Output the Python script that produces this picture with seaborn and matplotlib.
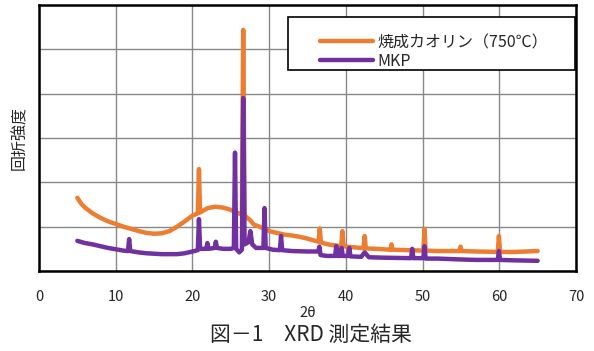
#!/usr/bin/env python3
# XRD patterns of calcined kaolin and MKP, redrawn with seaborn.
import matplotlib
matplotlib.use("Agg")
import matplotlib.pyplot as plt
from matplotlib.patches import Rectangle
import seaborn as sns

# 2theta / relative intensity
kaolin_x = [5.0, 5.5, 6.0, 7.0, 8.0, 9.0, 10.0, 11.0, 12.0, 13.0, 14.0, 15.0,
            16.0, 17.0, 18.0, 19.0, 20.0, 20.7, 20.85, 21.0, 22.0, 23.0, 24.0,
            25.0, 26.0, 26.45, 26.62, 26.8, 27.5, 28.0, 29.0, 30.0, 31.0, 32.0,
            33.0, 34.0, 35.0, 36.0, 36.45, 36.6, 36.75, 37.0, 38.0, 39.4,
            39.55, 39.7, 40.0, 42.0, 42.3, 42.45, 42.6, 44.0, 45.8, 45.95,
            46.1, 48.0, 50.1, 50.25, 50.4, 52.0, 54.8, 54.95, 55.1, 57.0, 59.8,
            59.95, 60.1, 62.0, 65.0]
kaolin_y = [1.65, 1.52, 1.43, 1.30, 1.20, 1.12, 1.06, 1.00, 0.95, 0.90, 0.86,
            0.84, 0.85, 0.90, 1.00, 1.12, 1.25, 1.30, 2.30, 1.32, 1.42, 1.45,
            1.43, 1.38, 1.30, 1.28, 5.44, 1.25, 1.15, 1.05, 0.98, 0.90, 0.86,
            0.82, 0.80, 0.77, 0.73, 0.68, 0.66, 0.96, 0.65, 0.63, 0.59, 0.56,
            0.90, 0.56, 0.55, 0.52, 0.51, 0.79, 0.51, 0.50, 0.48, 0.60, 0.48,
            0.47, 0.46, 0.95, 0.46, 0.45, 0.45, 0.55, 0.45, 0.44, 0.43, 0.79,
            0.43, 0.43, 0.45]

mkp_x = [5.0, 6.0, 7.0, 8.0, 9.0, 10.0, 11.0, 11.6, 11.75, 11.9, 13.0, 14.0,
         15.0, 16.0, 17.0, 18.0, 19.0, 20.0, 20.7, 20.85, 21.0, 21.8, 21.95,
         22.1, 22.9, 23.05, 23.2, 24.0, 25.0, 25.4, 25.55, 25.7, 26.1, 26.45,
         26.62, 26.8, 27.3, 27.55, 27.8, 28.3, 29.25, 29.4, 29.55, 30.5, 31.4,
         31.55, 31.7, 33.0, 35.0, 36.4, 36.55, 36.7, 37.5, 38.6, 38.75, 38.9,
         39.3, 39.45, 39.6, 40.3, 40.45, 40.6, 42.0, 42.45, 43.0, 45.0, 48.5,
         48.65, 48.8, 50.1, 50.25, 50.4, 52.0, 55.0, 57.0, 59.8, 59.95, 60.1,
         62.0, 65.0]
mkp_y = [0.68, 0.63, 0.60, 0.56, 0.52, 0.49, 0.46, 0.45, 0.72, 0.45, 0.42,
         0.40, 0.39, 0.38, 0.38, 0.38, 0.40, 0.44, 0.47, 1.17, 0.50, 0.50,
         0.63, 0.50, 0.52, 0.66, 0.52, 0.50, 0.50, 0.52, 2.67, 0.50, 0.42,
         0.48, 3.90, 0.60, 0.65, 0.90, 0.60, 0.52, 0.52, 1.42, 0.52, 0.48,
         0.47, 0.79, 0.47, 0.45, 0.44, 0.44, 0.55, 0.36, 0.34, 0.34, 0.56,
         0.34, 0.34, 0.52, 0.34, 0.34, 0.52, 0.33, 0.32, 0.42, 0.31, 0.30,
         0.29, 0.50, 0.29, 0.29, 0.56, 0.28, 0.28, 0.26, 0.25, 0.25, 0.45,
         0.25, 0.24, 0.23]

series_names = ["焼成カオリン（750℃）", "MKP"]
series_colors = ["#ED7D31", "#7030A0"]
x_ticks = [0, 10, 20, 30, 40, 50, 60, 70]

sns.set_style("white")
plt.rcParams["font.family"] = ["Noto Sans CJK JP", "DejaVu Sans"]

fig = plt.figure(figsize=(5.94, 3.51), dpi=100)
ax = fig.add_axes([39 / 594, 80 / 351, 537 / 594, 266 / 351])

LW = 3.2
sns.lineplot(x=kaolin_x, y=kaolin_y, ax=ax, color=series_colors[0],
             label=series_names[0], linewidth=LW, sort=False)
sns.lineplot(x=mkp_x, y=mkp_y, ax=ax, color=series_colors[1],
             label=series_names[1], linewidth=LW, sort=False)

ax.set_xlim(0, 70)
ax.set_ylim(0, 6)
ax.set_xticks(x_ticks)
ax.set_yticks(range(0, 7))
ax.set_yticklabels([])
ax.tick_params(axis="x", length=0, pad=14, labelsize=10.5)
ax.tick_params(axis="y", length=0)
ax.grid(True, color="#888888", linewidth=1.0)
ax.set_axisbelow(True)
for sp in ax.spines.values():
    sp.set_color("black")
    sp.set_linewidth(1.8)

ax.set_xlabel("2θ", fontsize=10.5)
ax.xaxis.set_label_coords(0.5, -(313 - 271) / 266, transform=ax.transAxes)
ax.xaxis.label.set_va("center")
ax.set_ylabel("回折強度", fontsize=11.5)
ax.yaxis.set_label_coords(-(39 - 20) / 537, 0.5, transform=ax.transAxes)
ax.yaxis.label.set_va("center")

# legend: Excel-style box with wide side padding
box = Rectangle((288 / 594, 1 - 70 / 351), 287 / 594, 53 / 351,
                transform=fig.transFigure, facecolor="white",
                edgecolor="black", linewidth=1.2, zorder=5)
fig.add_artist(box)
leg = ax.legend(loc="upper left", bbox_to_anchor=((320 - 39) / 537, 1 - 29 / 266),
                borderaxespad=0, borderpad=0, fontsize=11.5, frameon=False,
                handlelength=3.3, handletextpad=0.3, labelspacing=0.1)
leg.set_zorder(6)
fig.add_artist(leg)
for line in leg.get_lines():
    line.set_linewidth(LW)

fig.text(311 / 594, 1 - 335 / 351, "図－1　XRD 測定結果", ha="center",
         va="center", fontsize=15)

fig.savefig("out.png", dpi=100)
